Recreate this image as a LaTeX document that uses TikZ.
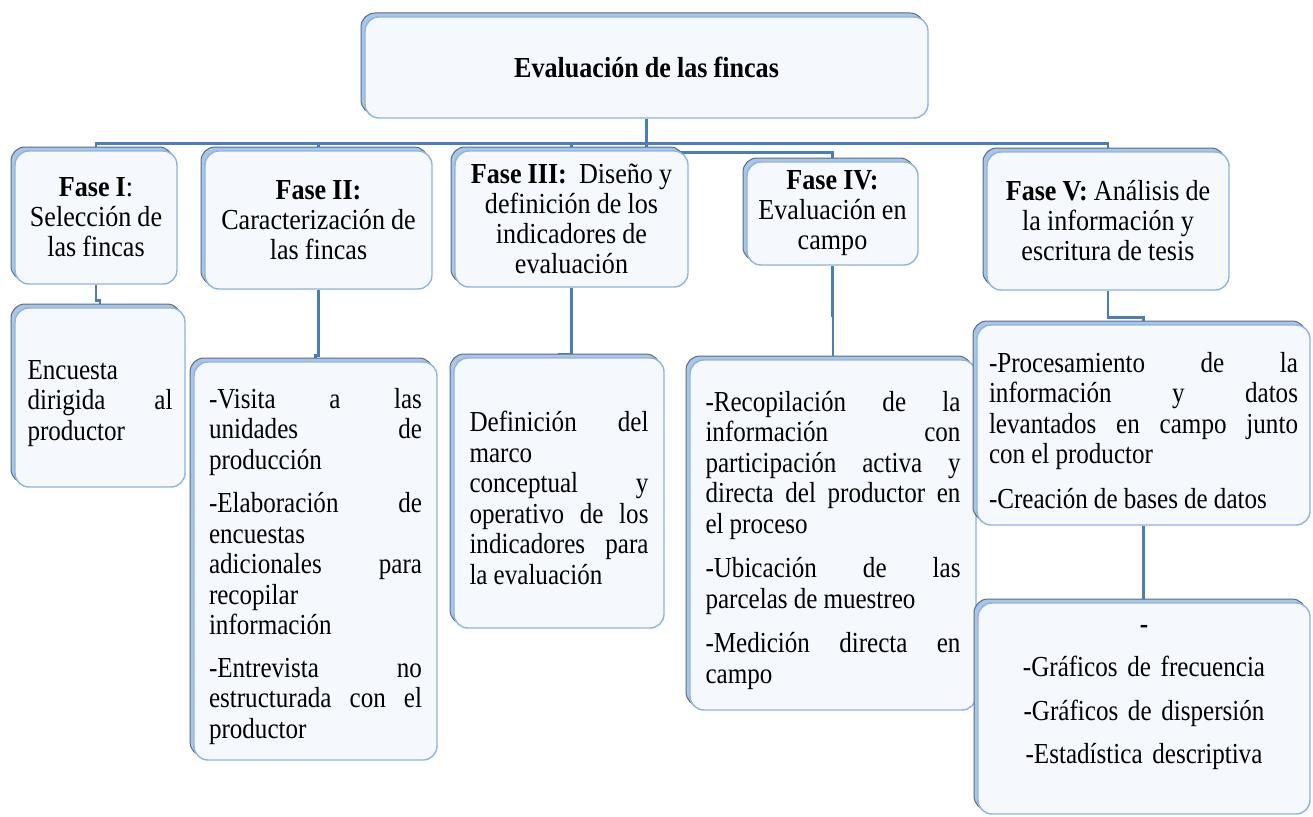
\documentclass[tikz,border=0pt]{standalone}
\usepackage{fontspec}
\setmainfont{Liberation Serif}[FakeStretch=0.9]
\newfontfamily\bodyfam{Liberation Serif}[FakeStretch=0.865]
\usetikzlibrary{shadows}
\definecolor{boxfill}{HTML}{F5F8FC}
\definecolor{boxedge}{HTML}{8EB4E3}
\definecolor{bandfill}{HTML}{A9C5E7}
\definecolor{bandedge}{HTML}{5E6C7E}
\definecolor{linecol}{HTML}{4A7EBB}
\pgfdeclarelayer{bglines}
\pgfsetlayers{bglines,main}
\newcommand\headfont{\fontsize{29}{30}\selectfont\spaceskip=.21em plus .1em minus .05em\relax}
\newcommand\bodyfont{\bodyfam\fontsize{29}{30.5}\selectfont\spaceskip=.21em plus .1em minus .05em\relax}
\newcommand\jline[1]{\par\noindent\hbox to\hsize{\spaceskip=.21em plus 1fil\relax#1}\par}
\newcommand\lline[1]{\par\noindent\hbox to\hsize{\spaceskip=.21em\relax#1\hfil}\par}
\newcommand\pgap[1]{\par\vspace{#1}}
\tikzset{
  boxbase/.style={rectangle, rounded corners=14pt, fill=boxfill, draw=boxedge,
    line width=1.4pt, inner sep=0pt,
    general shadow={shadow xshift=-4pt, shadow yshift=4pt, fill=bandfill,
      draw=bandedge, line width=1pt}},
  headbox/.style={boxbase, align=center, font=\headfont},
  listbox/.style={boxbase, font=\bodyfont},
  conn/.style={draw=linecol, line width=2.5pt},
}
\begin{document}
\begin{tikzpicture}[x=1pt,y=-1pt]
\begin{pgfonlayer}{bglines}
\fill[white] (0,0) rectangle (1313,816);
\end{pgfonlayer}
\useasboundingbox (0,0) rectangle (1313,816);

\node[headbox, minimum width=563pt, minimum height=101pt] (top) at (646.5,67.5)
  {\textbf{Evaluación de las fincas}};

\node[headbox, minimum width=162pt, minimum height=133pt] (f1) at (96,217.5)
  {\textbf{Fase I}:\\Selección de\\las fincas};
\node[headbox, minimum width=227pt, minimum height=138pt] (f2) at (318.5,220)
  {\textbf{Fase II:}\\Caracterización de\\las fincas};
\node[headbox, minimum width=233pt, minimum height=136pt] (f3) at (571.5,219)
  {\textbf{Fase III:}\ \ Diseño y\\definición de los\\indicadores de\\evaluación};
\node[headbox, minimum width=171pt, minimum height=103pt] (f4) at (832.5,213.5)
  {\textbf{Fase IV:}\\Evaluación en\\campo};
\node[headbox, minimum width=242pt, minimum height=138pt] (f5) at (1108,221)
  {\textbf{Fase V:} Análisis de\\la información y\\escritura de tesis};

\node[listbox, minimum width=170pt, minimum height=179pt, text width=145pt] (d1) at (100,397.5)
  {\lline{Encuesta}\jline{dirigida al}\lline{productor}};
\node[listbox, minimum width=243pt, minimum height=398pt, text width=213pt] (d2) at (315.5,561)
  {\jline{-Visita a las}\jline{unidades de}\lline{producción}\pgap{13pt}%
   \jline{-Elaboración de}\lline{encuestas}\jline{adicionales para}\lline{recopilar}\lline{información}\pgap{12pt}%
   \jline{-Entrevista no}\jline{estructurada con el}\lline{productor}};
\node[listbox, minimum width=210pt, minimum height=270pt, text width=179pt] (d3) at (559,493)
  {\jline{Definición del}\lline{marco}\jline{conceptual y}\jline{operativo de los}\jline{indicadores para}\lline{la evaluación}};
\node[listbox, minimum width=286pt, minimum height=350pt, text width=255pt] (d4) at (833,535)
  {\jline{-Recopilación de la}\jline{información con}\jline{participación activa y}\jline{directa del productor en}\lline{el proceso}\pgap{14pt}%
   \jline{-Ubicación de las}\lline{parcelas de muestreo}\pgap{14pt}%
   \jline{-Medición directa en}\lline{campo}};
\node[listbox, minimum width=333pt, minimum height=200pt, text width=309pt] (d5) at (1143.5,425)
  {\jline{-Procesamiento de la}\jline{información y datos}\jline{levantados en campo junto}\lline{con el productor}\pgap{14pt}%
   \lline{-Creación de bases de datos}};
\node[listbox, align=center, minimum width=332pt, minimum height=211pt, text width=310pt] (d6) at (1144,708.5)
  {\textbf{-}\\[13pt]-Gráficos de frecuencia\\[13pt]-Gráficos de dispersión\\[13pt]-Estadística descriptiva\par\nointerlineskip\hbox{\rule{0pt}{22pt}}};

\begin{pgfonlayer}{bglines}
\draw[conn] (top.south) -- ++(0,25) -| (f1.north);
\draw[conn] (top.south) -- ++(0,25) -| (f2.north);
\draw[conn] (top.south) -- ++(0,25) -| (f3.north);
\draw[conn] (top.south) -- ++(0,25) -| (f5.north);
\draw[conn] (top.south) -- ++(0,34) -| (f4.north);
\draw[conn] (f1.south) -- ++(0,16) -| (d1.north);
\draw[conn] (f2.south) -- ++(0,66) -| (d2.north);
\draw[conn] (f3.south) -- ++(0,67) -| (d3.north);
\draw[conn] (f4.south) -- ++(0,50) -| (d4.north);
\draw[conn] (f5.south) -- ++(0,27) -| (d5.north);
\draw[conn] (d5.south) -- ++(0,72) -| (d6.north);
\end{pgfonlayer}
\end{tikzpicture}
\end{document}
